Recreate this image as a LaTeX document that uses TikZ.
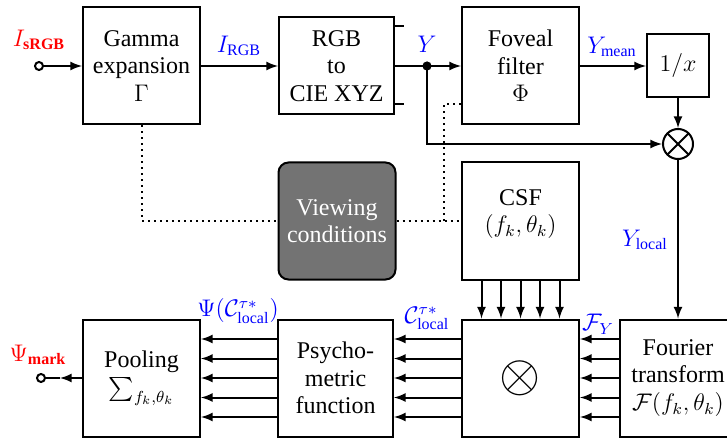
\documentclass[tikz,border=0pt]{standalone}
\usepackage{amsmath}
\usepackage{amssymb}
\usepackage[no-math]{fontspec}
\setmainfont{Liberation Serif}
\usepackage{graphicx}
\usepackage{tikz}
\usetikzlibrary{shapes,arrows,positioning}

\begin{document}
\begin{tikzpicture}[x=0.5pt, y=-0.5pt, line width=1pt, font=\fontsize{12}{13.8}\selectfont]
			\tikzstyle{Block}	= [rectangle, draw, fill=white, align=center, inner sep=0pt, minimum width=58.5pt, minimum height=58.5pt]
			\tikzstyle{Small}	= [Block, minimum width=31pt, minimum height=31.5pt]
			\tikzstyle{View}	= [Block, rounded corners=5pt, fill=black!55, text=white]
			\tikzstyle{Mult}	= [circle, draw, minimum size=15pt, inner sep=0pt, path picture={\draw (path picture bounding box.north west) -- (path picture bounding box.south east); \draw (path picture bounding box.north east) -- (path picture bounding box.south west);}]
			\tikzstyle{Port}	= [circle, draw, fill=white, minimum size=4pt, inner sep=0pt]
			\tikzstyle{Sig}		= [blue]
			\tikzstyle{Ext}		= [red]
			\tikzstyle{Arr}		= [-latex]
			\tikzstyle{Cond}	= [dotted]
			
			\useasboundingbox (0, 0) rectangle (727, 438);
			
			\node (in) at (39, 66) [Port] {};
			\node (gamma) at (141.5, 66) [Block] {Gamma\\expansion\\$\Gamma$};
			\node (rgb) at (336.5, 66) [Block, minimum width=57.5pt, minimum height=48.5pt] {RGB\\to\\CIE XYZ};
			\coordinate (yj) at (427, 66);
			\node (fov) at (520.5, 66) [Block] {Foveal\\filter\\$\Phi$};
			\node (inv) at (678, 66) [Small] {$1/x$};
			\node (mult) at (678, 144) [Mult] {};
			\node (view) at (337, 221) [View] {Viewing\\conditions};
			\node (csf) at (520.5, 221) [Block] {CSF\\$(f_k,\theta_k)$\\[-4pt]\mbox{}};
			\coordinate (vc) at (444, 221);
			\node (prod) at (520.5, 378) [Block] {\scalebox{2.2}{$\otimes$}};
			\node (fourier) at (678, 378) [Block] {Fourier\\transform\\$\mathcal{F}(f_k,\theta_k)$};
			\node (psy) at (335.5, 378) [Block, minimum width=57.5pt] {Psycho-\\metric\\function};
			\node (pool) at (141.5, 378) [Block] {Pooling\\$\sum_{f_k,\theta_k}$};
			\coordinate (om) at (60, 378);
			\node (out) at (41, 378) [Port] {};
			
			\node (lIn) at (39, 40) [Ext] {$I_{\textbf{sRGB}}$};
			\node (lRGB) at (239, 46) [Sig] {$I_{\text{RGB}}$};
			\node (lY) at (427, 44) [Sig] {$Y$};
			\node (lMean) at (612, 47) [Sig] {$Y_{\text{mean}}$};
			\node (lLocal) at (645, 240) [Sig] {$Y_{\text{local}}$};
			\node (lF) at (598, 324) [Sig] {$\mathcal{F}_Y$};
			\node (lC) at (427, 318) [Sig] {$\mathcal{C}^{\tau *}_{\text{local}}$};
			\node (lPsi) at (238, 311) [Sig] {$\Psi(\mathcal{C}^{\tau *}_{\text{local}})$};
			\node (lOut) at (38, 355) [Ext] {$\Psi_{\textbf{mark}}$};
			
			\draw [Arr] (in) to (gamma);
			\draw [Arr] (gamma) to (rgb);
			\draw (rgb) to (yj);
			\draw [Arr] (yj) to (fov);
			\draw [Arr] (yj) |- (mult);
			\fill (yj) circle (2.3pt);
			\draw [Arr] (fov) to (inv);
			\draw [Arr] (inv) to (mult);
			\draw [Arr] (mult) to (fourier);
			\draw ([yshift=20pt]rgb.east) to ++(9, 0);
			\draw ([yshift=-19pt]rgb.east) to ++(9, 0);
			
			\draw [Cond] (gamma) |- (view);
			\draw [Cond] (view) to (csf);
			\draw [Cond] (vc) |- ([yshift=-19pt]fov.west);
			
			\foreach \k in {-2,...,2}
			{
				\draw [Arr] ([xshift=\k*9.75pt]csf.south) to ([xshift=\k*9.75pt]prod.north);
				\draw [Arr] ([yshift=\k*9.75pt]fourier.west) to ([yshift=\k*9.75pt]prod.east);
				\draw [Arr] ([yshift=\k*9.75pt]prod.west) to ([yshift=\k*9.75pt]psy.east);
				\draw [Arr] ([yshift=\k*9.75pt]psy.west) to ([yshift=\k*9.75pt]pool.east);
			}
			
			\draw [Arr] (pool) to (om);
			\draw (om) to (out);
		\end{tikzpicture}
\end{document}
